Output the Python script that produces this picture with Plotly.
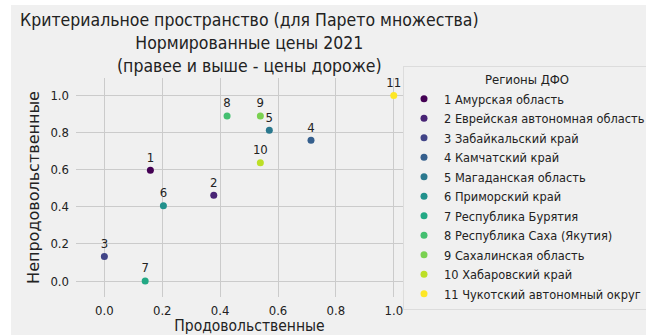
import plotly.graph_objects as go

# Normalised 2021 prices for regions of the Far Eastern Federal District
regions = [
    "Амурская область",
    "Еврейская автономная область",
    "Забайкальский край",
    "Камчатский край",
    "Магаданская область",
    "Приморский край",
    "Республика Бурятия",
    "Республика Саха (Якутия)",
    "Сахалинская область",
    "Хабаровский край",
    "Чукотский автономный округ",
]
food = [0.159, 0.378, 0.0, 0.714, 0.570, 0.204, 0.141, 0.424, 0.539, 0.539, 1.0]
nonfood = [0.597, 0.462, 0.132, 0.759, 0.813, 0.405, 0.0, 0.889, 0.889, 0.638, 1.0]

# viridis sampled at 11 evenly spaced points
colors = ["#440154", "#482475", "#414487", "#355f8d", "#2a788e", "#21918c",
          "#22a884", "#44bf70", "#7ad151", "#bddf26", "#fde725"]

title_lines = [
    "Критериальное пространство (для Парето множества)",
    "Нормированные цены 2021",
    "(правее и выше - цены дороже)",
]

FONT = "DejaVu Sans Condensed"
FONT_Y = "DejaVu Sans"
BG = "#f0f0f0"
GRID = "#cbcbcb"
TXT = "#222222"

W, H = 646, 335
ML, MR, MT, MB = 76, 223, 78, 38
PW, PH = W - ML - MR, H - MT - MB

fig = go.Figure()
for i, (name, x, y, c) in enumerate(zip(regions, food, nonfood, colors), start=1):
    fig.add_trace(go.Scatter(
        x=[x], y=[y], mode="markers+text",
        text=[str(i)], textposition="top center",
        textfont=dict(family=FONT, size=13, color=TXT),
        marker=dict(color=c, size=7),
        name=f"{i} {name}",
        cliponaxis=False,
    ))

# grey figure face, leaving a thin white strip at the left and top
fig.add_shape(type="rect", xref="paper", yref="paper", layer="below",
              x0=(11 - ML) / PW, x1=(W + 5 - ML) / PW,
              y0=-(MB + 5) / PH, y1=(PH + MT - 5) / PH,
              fillcolor=BG, line=dict(width=0))

# three-line title centred over the axes
fig.add_annotation(
    text="<br>".join(title_lines), xref="paper", yref="paper",
    x=0.5, xanchor="center", y=(PH + MT - 8) / PH, yanchor="top",
    showarrow=False, align="center",
    font=dict(family=FONT, size=17.5, color=TXT),
)

fig.update_layout(
    width=W, height=H,
    margin=dict(l=ML, r=MR, t=MT, b=MB, pad=0, autoexpand=False),
    paper_bgcolor="white", plot_bgcolor="rgba(0,0,0,0)",
    font=dict(family=FONT, color=TXT),
    xaxis=dict(
        range=[-0.098, 1.101], tickvals=[0, 0.2, 0.4, 0.6, 0.8, 1.0],
        ticktext=["0.0", "0.2", "0.4", "0.6", "0.8", "1.0"],
        showgrid=True, gridcolor=GRID, gridwidth=1, zeroline=False,
        showline=False, ticks="", ticklabelstandoff=4,
        tickfont=dict(family=FONT, size=13, color=TXT),
        title=dict(text="Продовольственные", standoff=5,
                   font=dict(family=FONT, size=15.5, color=TXT)),
    ),
    yaxis=dict(
        range=[-0.086, 1.094], tickvals=[0, 0.2, 0.4, 0.6, 0.8, 1.0],
        ticktext=["0.0", "0.2", "0.4", "0.6", "0.8", "1.0"],
        showgrid=True, gridcolor=GRID, gridwidth=1, zeroline=False,
        showline=False, ticks="", ticklabelstandoff=6,
        tickfont=dict(family=FONT, size=13, color=TXT),
        title=dict(text="Непродовольственные", standoff=6,
                   font=dict(family=FONT_Y, size=16, color=TXT)),
    ),
    legend=dict(
        title=dict(text="Регионы ДФО", side="top center",
                   font=dict(family=FONT, size=13, color=TXT)),
        xref="container", yref="container",
        x=403 / W, xanchor="left",
        y=1 - 66 / H, yanchor="top",
        bgcolor=BG, bordercolor="#dcdcdc", borderwidth=1,
        font=dict(family=FONT, size=12.7, color=TXT),
        itemwidth=30, tracegroupgap=0, maxheight=1,
    ),
    showlegend=True,
)

fig.write_html("out.html")
